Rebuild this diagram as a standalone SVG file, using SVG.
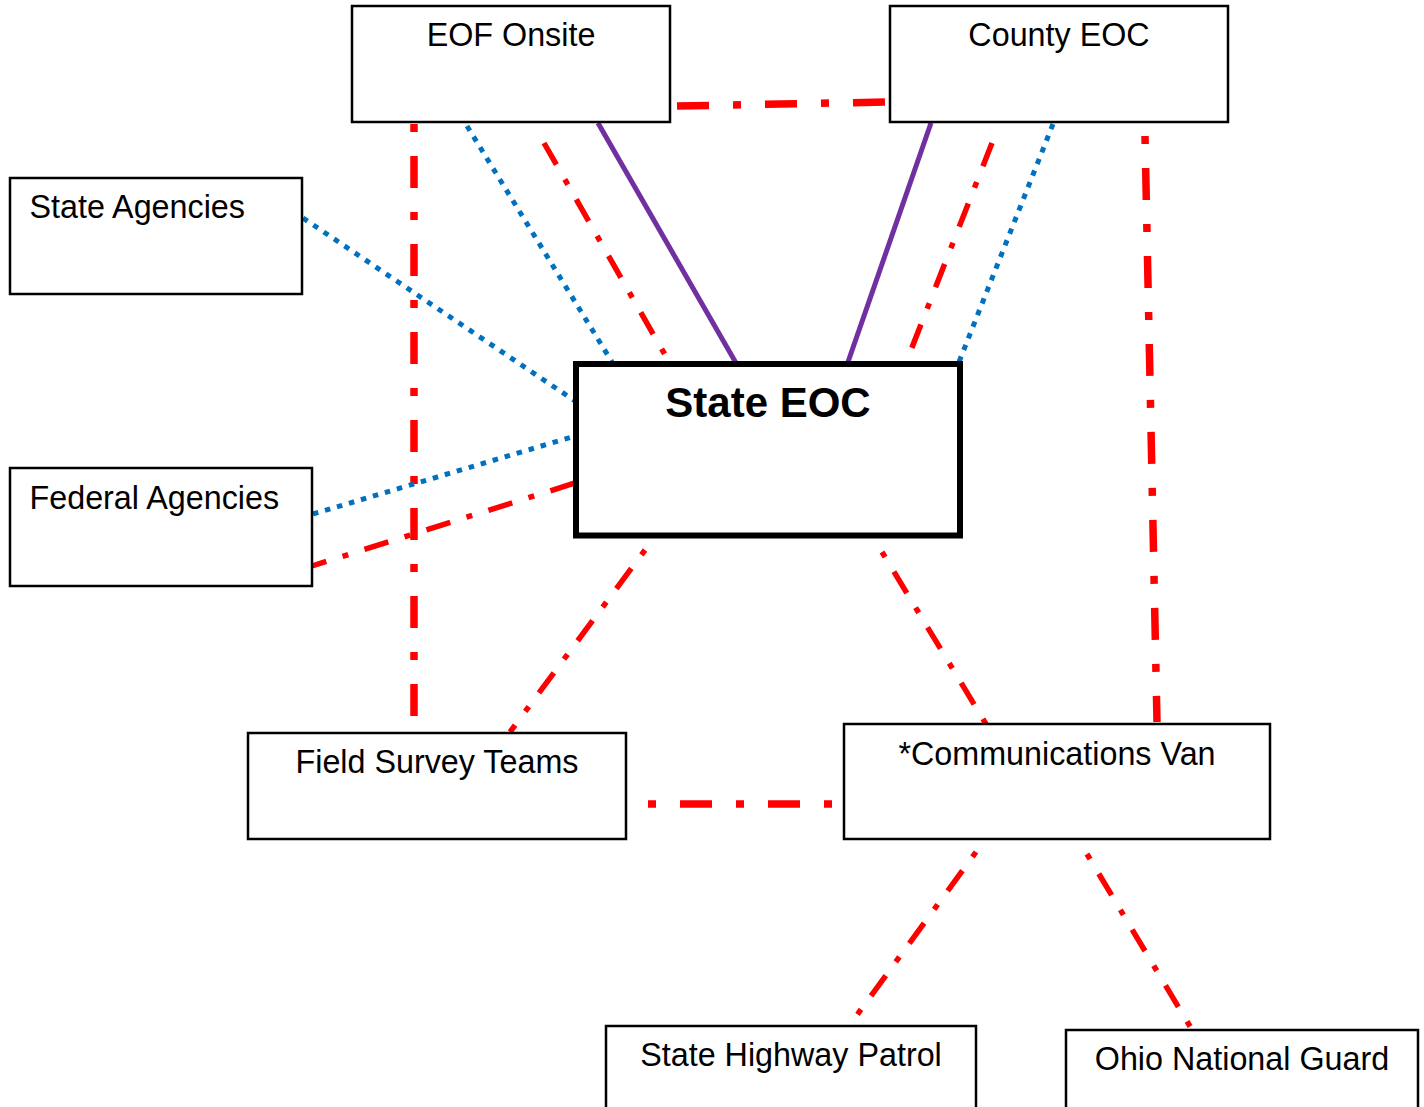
<svg xmlns="http://www.w3.org/2000/svg" width="1424" height="1107" viewBox="0 0 1424 1107">
<style>
.box{fill:#fff;stroke:#000;stroke-width:2.5}
.main{fill:#fff;stroke:#000;stroke-width:6}
.t{font-family:"Liberation Sans",Arial,sans-serif;font-size:32.3px;fill:#000}
.c{text-anchor:middle}
.b{font-weight:bold;font-size:42px}
.rt{stroke:#FF0000;stroke-width:7.5;fill:none;stroke-dasharray:8 24 32 24}
.rs{stroke:#FF0000;stroke-width:5.5;fill:none;stroke-dasharray:25 17 6 17}
.bl{stroke:#0070C0;stroke-width:5;fill:none;stroke-dasharray:5.5 7}
.pu{stroke:#7030A0;stroke-width:5;fill:none}
</style>
<rect width="1424" height="1107" fill="#fff"/>
<g id="connectors">
<line class="rt" x1="677" y1="106" x2="886" y2="102" style="stroke-dasharray:32 24 8 24"/>
<line class="rt" x1="414" y1="124" x2="414" y2="718"/>
<line class="rt" x1="1145" y1="136" x2="1157" y2="722"/>
<line class="rt" x1="648" y1="804" x2="834" y2="804"/>
<line class="rs" x1="544" y1="143" x2="668" y2="360"/>
<line class="rs" x1="992" y1="143" x2="911" y2="350"/>
<line class="rs" x1="312" y1="566" x2="575" y2="483" style="stroke-dashoffset:10"/>
<line class="rs" x1="645" y1="550" x2="510" y2="732" style="stroke-dashoffset:42"/>
<line class="rs" x1="882" y1="552" x2="986" y2="724" style="stroke-dashoffset:42"/>
<line class="rs" x1="976" y1="852" x2="857" y2="1015" style="stroke-dashoffset:42"/>
<line class="rs" x1="1087" y1="854" x2="1191" y2="1028" style="stroke-dashoffset:42"/>
<line class="bl" x1="467" y1="126" x2="612" y2="362"/>
<line class="bl" x1="1053" y1="124" x2="959" y2="362"/>
<line class="bl" x1="303" y1="218" x2="575" y2="401"/>
<line class="bl" x1="313" y1="514" x2="575" y2="436"/>
<line class="pu" x1="598" y1="123" x2="736" y2="363"/>
<line class="pu" x1="931" y1="123" x2="848" y2="362"/>
</g>
<g id="eof-onsite"><rect class="box" x="352" y="6" width="318" height="116"/><text class="t c" x="511" y="46">EOF Onsite</text></g>
<g id="county-eoc"><rect class="box" x="890" y="6" width="338" height="116"/><text class="t c" x="1059" y="46">County EOC</text></g>
<g id="state-agencies"><rect class="box" x="10" y="178" width="292" height="116"/><text class="t" x="29.5" y="218">State Agencies</text></g>
<g id="federal-agencies"><rect class="box" x="10" y="468" width="302" height="118"/><text class="t" x="29.5" y="509">Federal Agencies</text></g>
<g id="state-eoc"><rect class="main" x="576" y="364" width="384" height="171.5"/><text class="t c b" x="768" y="417">State EOC</text></g>
<g id="field-survey-teams"><rect class="box" x="248" y="733" width="378" height="106"/><text class="t c" x="437" y="773">Field Survey Teams</text></g>
<g id="communications-van"><rect class="box" x="844" y="724" width="426" height="115"/><text class="t c" x="1057" y="765">*Communications Van</text></g>
<g id="state-highway-patrol"><rect class="box" x="606" y="1026" width="370" height="100"/><text class="t c" x="791" y="1066">State Highway Patrol</text></g>
<g id="ohio-national-guard"><rect class="box" x="1066" y="1030" width="352" height="100"/><text class="t c" x="1242" y="1070">Ohio National Guard</text></g>
</svg>
